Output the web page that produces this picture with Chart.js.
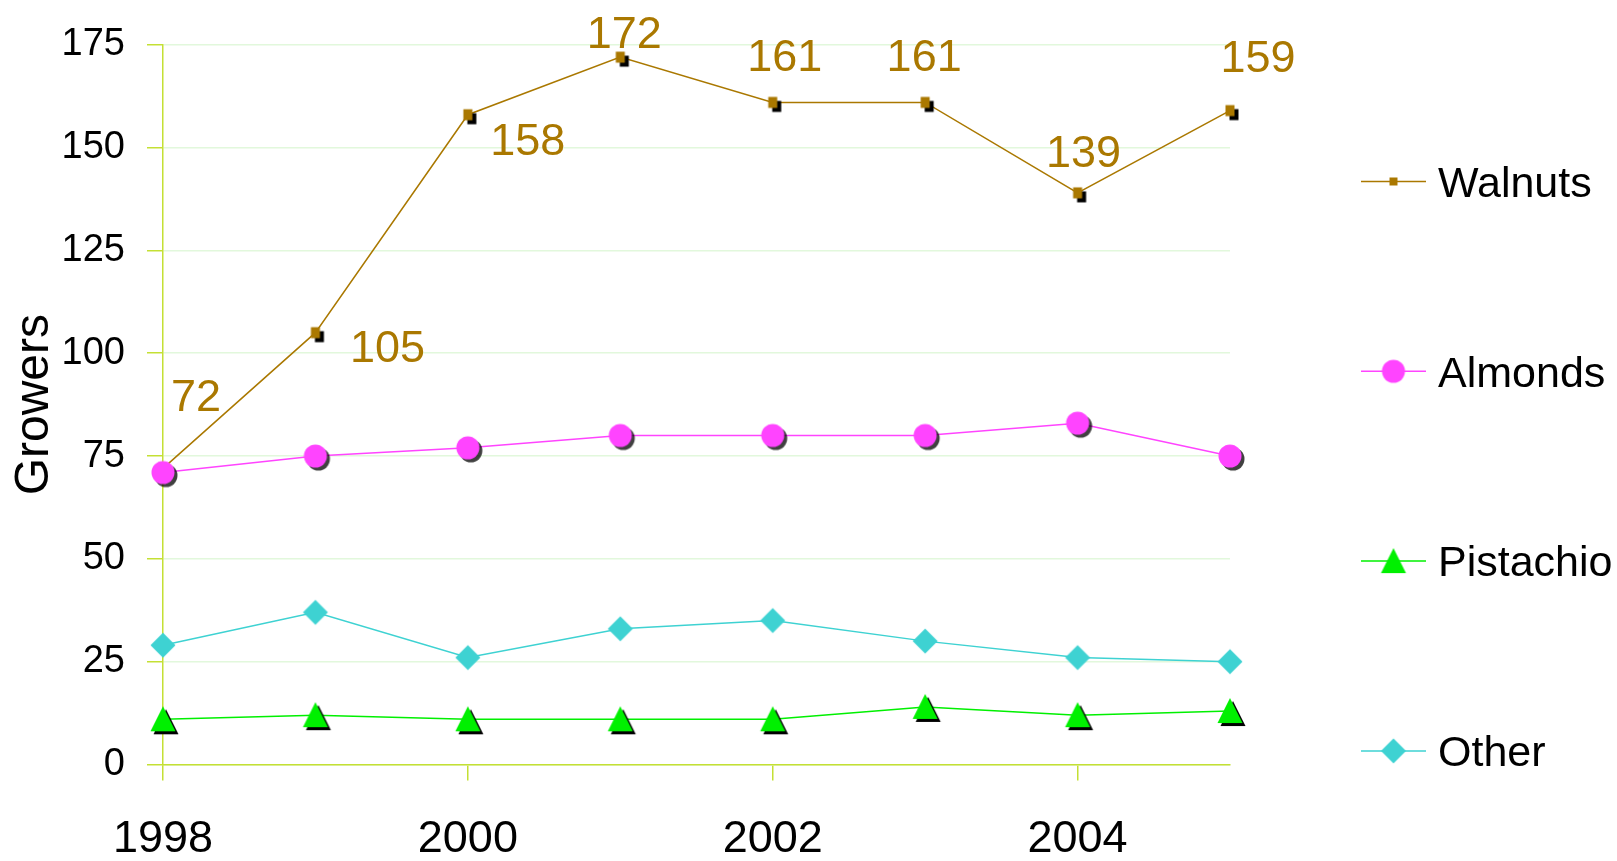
<!DOCTYPE html>
<html>
<head>
<meta charset="utf-8">
<title>Growers</title>
<script src="https://cdn.jsdelivr.net/npm/chart.js@4.4.1/dist/chart.umd.min.js"></script>
<style>
  html, body { margin: 0; padding: 0; background: #ffffff; }
  #wrap { width: 1617px; height: 861px; }
</style>
</head>
<body>
<div id="wrap"><canvas id="chart" width="1617" height="861"></canvas></div>
<script>
// Number of growers per year
const years     = [1998, 1999, 2000, 2001, 2002, 2003, 2004, 2005];
const walnuts   = [72, 105, 158, 172, 161, 161, 139, 159];
const almonds   = [71, 75, 77, 80, 80, 80, 83, 75];
const pistachio = [11, 12, 11, 11, 11, 14, 12, 13];
const other     = [29, 37, 26, 33, 35, 30, 26, 25];
const seriesNames = ['Walnuts', 'Almonds', 'Pistachio', 'Other'];
const yTicks = [0, 25, 50, 75, 100, 125, 150, 175];
const xTicks = [1998, 2000, 2002, 2004];

const FONT = "'Liberation Sans', Arial, sans-serif";
const AXIS = '#c4e034';
const GRID = '#e2f8dc';
const colors = {
  walnuts: '#aa7800',
  almonds: '#ff44ff',
  pistachio: '#00f000',
  other: '#3ed2d2'
};

// Marker images: coloured shape with an optional dark drop shadow
function makeMarker(shape, color, shadow, shadowColor) {
  const size = 44;
  const c = document.createElement('canvas');
  c.width = size; c.height = size;
  const g = c.getContext('2d');
  const cx = size / 2, cy = size / 2;
  function path(dx, dy) {
    g.beginPath();
    const x = cx + dx, y = cy + dy;
    switch (shape) {
      case 'square':
        g.rect(x - 4.5, y - 5.5, 9, 11);
        break;
      case 'smallsquare':
        g.rect(x - 4, y - 4, 8, 8);
        break;
      case 'circle':
        g.arc(x, y, 11.5, 0, Math.PI * 2);
        break;
      case 'triangle':
        g.moveTo(x, y - 13);
        g.lineTo(x + 12.5, y + 12);
        g.lineTo(x - 12.5, y + 12);
        g.closePath();
        break;
      case 'diamond':
        g.moveTo(x, y - 12.5);
        g.lineTo(x + 12.5, y);
        g.lineTo(x, y + 12.5);
        g.lineTo(x - 12.5, y);
        g.closePath();
        break;
    }
  }
  if (shadow) {
    g.fillStyle = shadowColor || '#000000';
    path(shadow, shadow);
    g.fill();
  }
  g.fillStyle = color;
  path(0, 0);
  g.fill();
  return c;
}

const pointMarkers = [
  makeMarker('square', colors.walnuts, 4),
  makeMarker('circle', colors.almonds, 3, 'rgba(0,0,0,0.75)'),
  makeMarker('triangle', colors.pistachio, 3),
  makeMarker('diamond', colors.other, 0)
];
const legendMarkers = [
  makeMarker('smallsquare', colors.walnuts, 0),
  makeMarker('circle', colors.almonds, 0),
  makeMarker('triangle', colors.pistachio, 0),
  makeMarker('diamond', colors.other, 0)
];

function toPoints(values) {
  return years.map((x, i) => ({ x: x, y: values[i] }));
}

// Legend at the right: line sample, marker and series name
const sideLegend = {
  id: 'sideLegend',
  afterDraw(chart, args, opts) {
    const ctx = chart.ctx;
    chart.data.datasets.forEach((ds, i) => {
      const y = opts.top + i * opts.gap;
      ctx.save();
      ctx.strokeStyle = ds.borderColor;
      ctx.lineWidth = 1.5;
      ctx.beginPath();
      ctx.moveTo(opts.x, y);
      ctx.lineTo(opts.x + opts.lineLength, y);
      ctx.stroke();
      const img = legendMarkers[i];
      ctx.drawImage(img, opts.x + opts.lineLength / 2 - img.width / 2, y - img.height / 2);
      ctx.fillStyle = '#000000';
      ctx.font = opts.fontSize + 'px ' + FONT;
      ctx.textAlign = 'left';
      ctx.textBaseline = 'alphabetic';
      ctx.fillText(ds.label, opts.x + opts.lineLength + opts.textGap, y + opts.fontSize * 0.358);
      ctx.restore();
    });
  }
};

// Value labels for the walnut series
const valueLabels = {
  id: 'valueLabels',
  afterDatasetsDraw(chart, args, opts) {
    const meta = chart.getDatasetMeta(opts.datasetIndex);
    const values = chart.data.datasets[opts.datasetIndex].data;
    const ctx = chart.ctx;
    ctx.save();
    ctx.fillStyle = opts.color;
    ctx.font = opts.fontSize + 'px ' + FONT;
    ctx.textAlign = 'center';
    ctx.textBaseline = 'alphabetic';
    meta.data.forEach((pt, i) => {
      const off = opts.offsets[i];
      ctx.fillText(String(values[i].y), pt.x + off[0], pt.y + off[1] + opts.fontSize * 0.358);
    });
    ctx.restore();
  }
};

const series = [walnuts, almonds, pistachio, other];
const seriesColors = [colors.walnuts, colors.almonds, colors.pistachio, colors.other];

new Chart(document.getElementById('chart'), {
  type: 'line',
  data: {
    datasets: series.map((vals, i) => ({
      label: seriesNames[i],
      data: toPoints(vals),
      borderColor: seriesColors[i],
      backgroundColor: seriesColors[i],
      borderWidth: 1.5,
      pointStyle: pointMarkers[i],
      pointRadius: 12,
      tension: 0,
      fill: false,
      clip: false,
      order: 4 - i
    }))
  },
  options: {
    responsive: false,
    animation: false,
    devicePixelRatio: 1,
    layout: { padding: { top: 43, right: 387, left: 0, bottom: 0 } },
    plugins: {
      legend: { display: false },
      tooltip: { enabled: false },
      sideLegend: { x: 1361, top: 181.5, gap: 189.8, lineLength: 65, textGap: 12, fontSize: 43 },
      valueLabels: {
        datasetIndex: 0,
        color: colors.walnuts,
        fontSize: 45,
        offsets: [[33, -74], [72, 13], [60, 24], [4, -25], [12, -47], [-1, -47], [6, -42], [28, -55]]
      }
    },
    scales: {
      x: {
        type: 'linear',
        min: years[0],
        max: years[years.length - 1],
        afterBuildTicks: s => { s.ticks = xTicks.map(v => ({ value: v })); },
        afterFit: s => { s.height = 96.5; },
        ticks: {
          font: { family: FONT, size: 45 },
          color: '#000000',
          padding: 32,
          maxRotation: 0,
          callback: v => String(v)
        },
        grid: { drawOnChartArea: false, drawTicks: true, tickLength: 16, tickColor: AXIS, lineWidth: 1.5 },
        border: { color: AXIS, width: 1.5 }
      },
      y: {
        min: 0,
        max: 175,
        afterBuildTicks: s => { s.ticks = yTicks.map(v => ({ value: v })); },
        afterFit: s => { s.width = 163; },
        ticks: {
          font: { family: FONT, size: 38 },
          color: '#000000',
          padding: 22
        },
        grid: { color: GRID, tickColor: AXIS, tickLength: 16, lineWidth: 1.5 },
        border: { color: AXIS, width: 1.5 },
        title: {
          display: true,
          text: 'Growers',
          font: { family: FONT, size: 48 },
          color: '#000000',
          padding: { top: 6, bottom: 0 }
        }
      }
    }
  },
  plugins: [sideLegend, valueLabels]
});
</script>
</body>
</html>
